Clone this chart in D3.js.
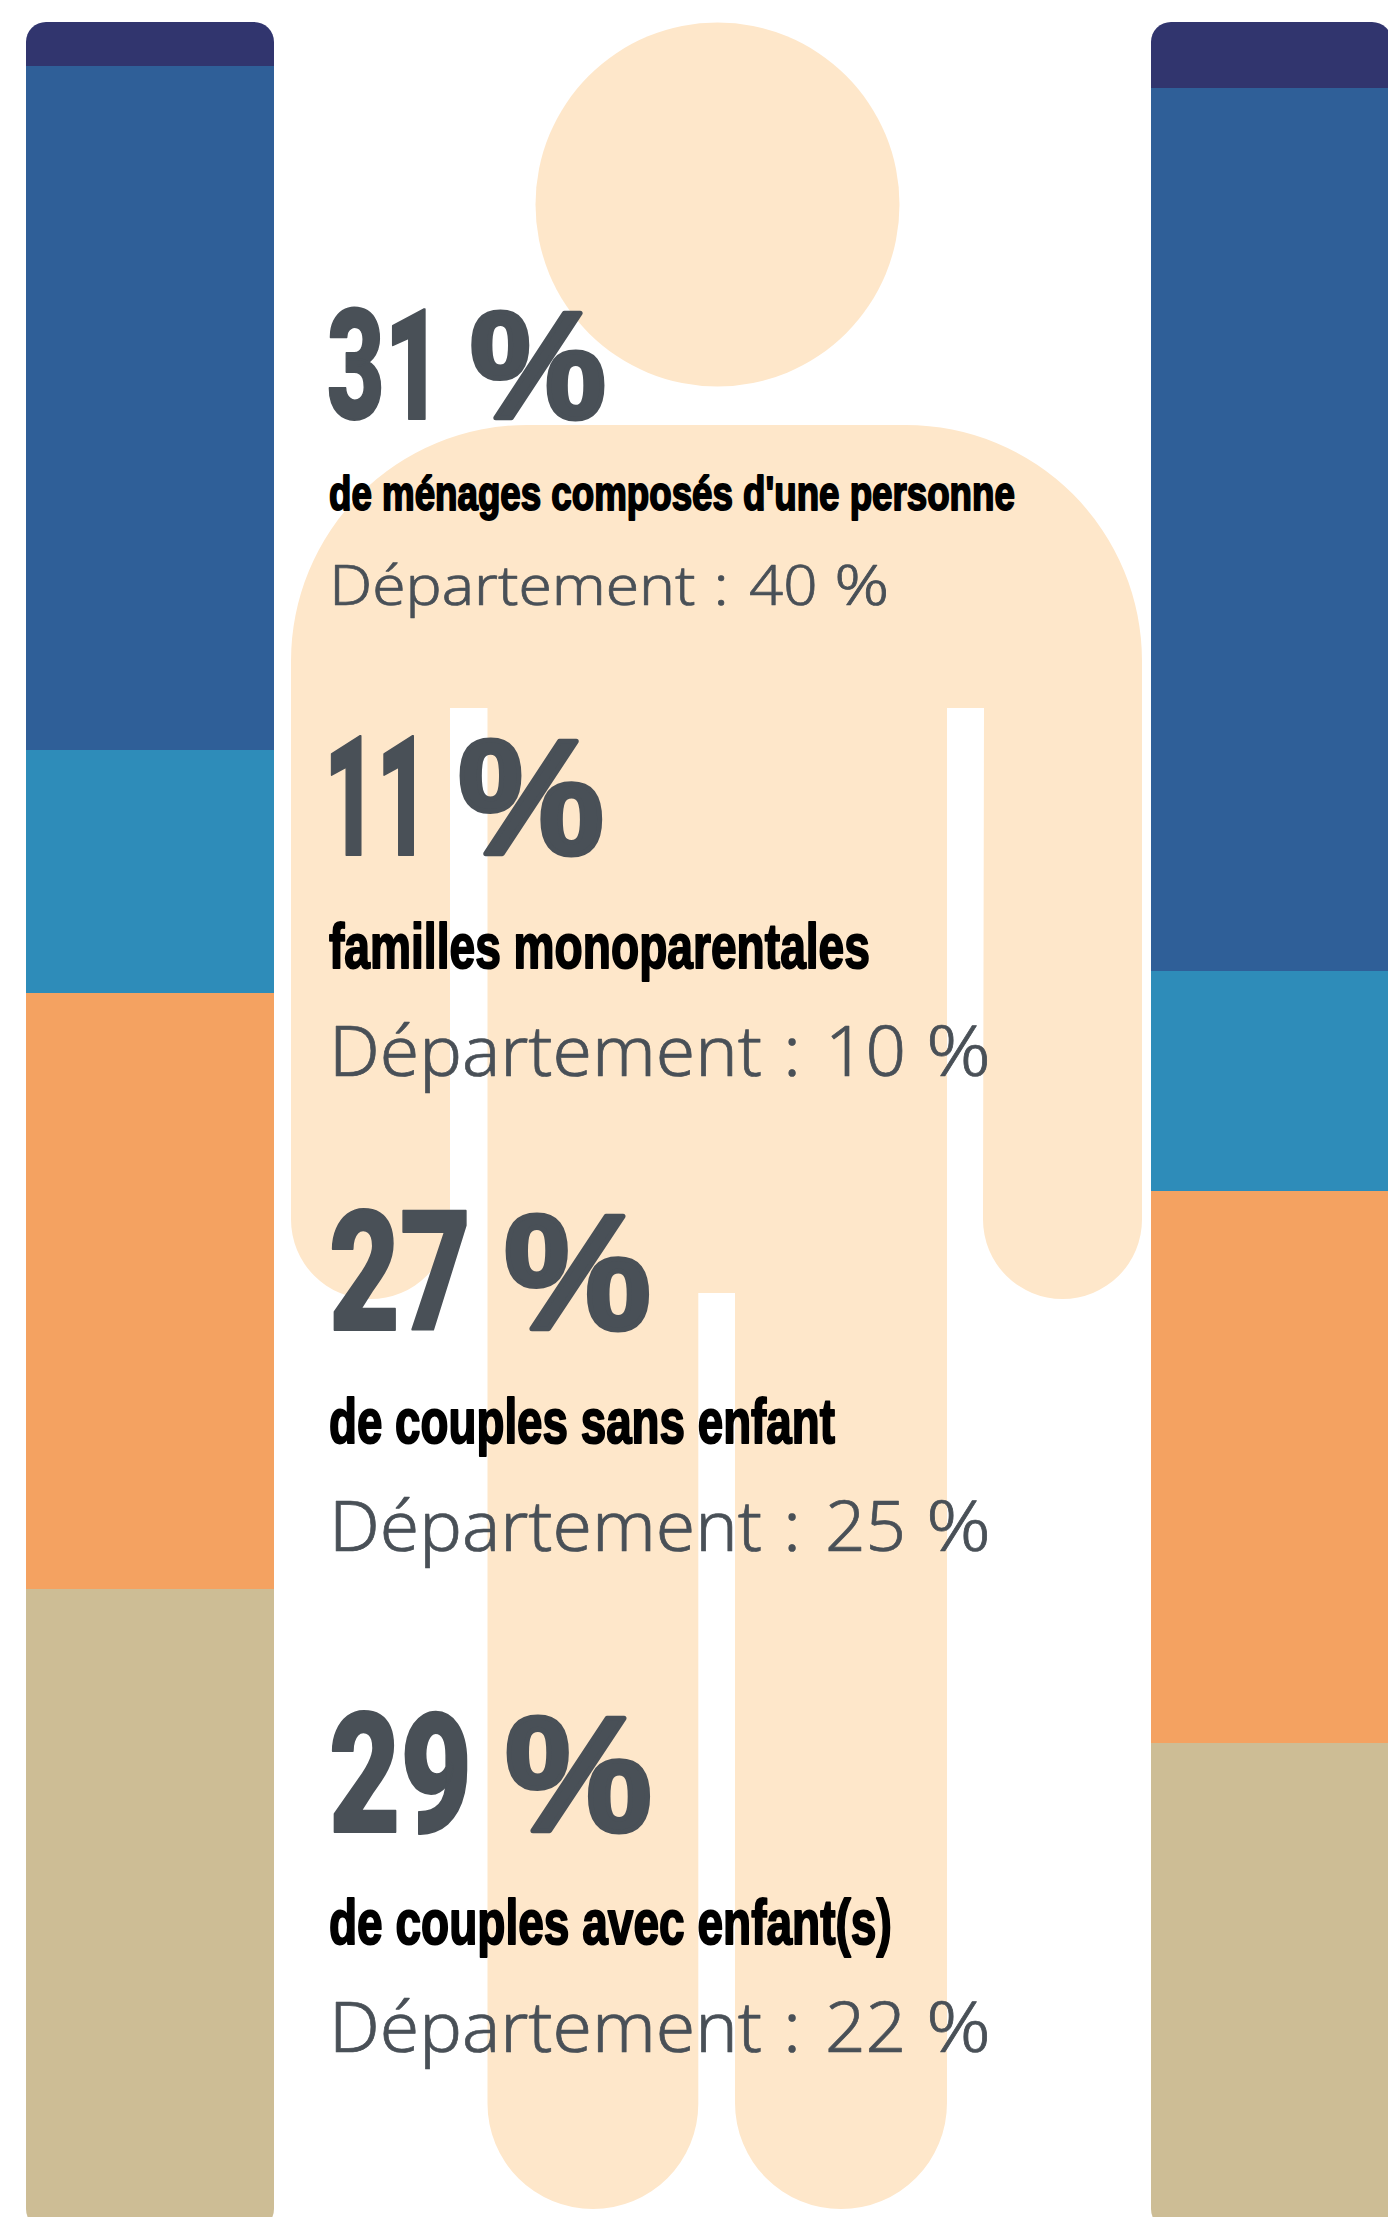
<!DOCTYPE html>
<html lang="fr">
<head>
<meta charset="utf-8">
<script src="https://cdn.jsdelivr.net/npm/d3@7"></script>
<style>
html,body{margin:0;padding:0;background:#fff;overflow:hidden}
svg{display:block}
text{white-space:pre}
</style>
</head>
<body>
<svg id="c" width="1388" height="2217"></svg>
<script>
const segments = ["autres","menages1","monoparentales","sansEnfant","avecEnfant"];
const commune = [2,31,11,27,29];
const departement = [3,40,10,25,22];
const labels = ["de ménages composés d'une personne","familles monoparentales","de couples sans enfant","de couples avec enfant(s)"];
const colours = ["#31356e","#2f5f98","#2e8cb9","#f4a261","#cdbd95"];

const svg=d3.select("#c");
const y=d3.scaleLinear().domain([0,100]).rangeRound([22,2228.5]);

// figure
const g=svg.append("g").attr("fill","#fee7ca");
g.append("circle").attr("cx",717.5).attr("cy",204.5).attr("r",182);
const p=d3.path();
const L=291,R=1142,T=425,r=236,
      g1=450,g2=487.5,g3=947,g4=984,gapTop=708,armB=1299,
      l1=698.3,l2=735,legTop=1293,legB=2209;
const armR=(g1-L)/2, legR=(l1-g2)/2, legR2=(g3-l2)/2;
p.moveTo(L,T+r);
p.arcTo(L,T,L+r,T,r);
p.lineTo(R-r,T);
p.arcTo(R,T,R,T+r,r);
p.lineTo(R,armB-armR);
p.arc(R-armR,armB-armR,armR,0,Math.PI);
p.lineTo(g4,gapTop);
p.lineTo(g3,gapTop);
p.lineTo(g3,legB-legR2);
p.arc(g3-legR2,legB-legR2,legR2,0,Math.PI);
p.lineTo(l2,legTop);
p.lineTo(l1,legTop);
p.lineTo(l1,legB-legR);
p.arc(l1-legR,legB-legR,legR,0,Math.PI);
p.lineTo(g2,gapTop);
p.lineTo(g1,gapTop);
p.lineTo(g1,armB-armR);
p.arc(g1-armR,armB-armR,armR,0,Math.PI);
p.closePath();
g.append("path").attr("d",p.toString());

// stacked bars
const defs=svg.append("defs");
function bar(values,x0,x1,id){
  const row={};segments.forEach((s,i)=>row[s]=values[i]);
  const st=d3.stack().keys(segments)([row]);
  defs.append("clipPath").attr("id",id).append("rect")
    .attr("x",x0).attr("y",y(0)).attr("width",x1-x0).attr("height",y(100)-y(0)).attr("rx",20).attr("ry",20);
  svg.append("g").attr("clip-path",`url(#${id})`).selectAll("rect").data(st).join("rect")
    .attr("x",x0).attr("width",x1-x0)
    .attr("y",d=>y(d[0][0])).attr("height",d=>y(d[0][1])-y(d[0][0]))
    .attr("fill",(d,i)=>colours[i]);
}
bar(commune,26,274,"cl");
bar(departement,1151,1392,"cr");

// a run of text scaled to a measured span
function fit(str,x0,x1,base,cap,o){
  const st=o.stroke||0;
  const t=svg.append("text").text(str)
    .attr("font-family",o.family).attr("font-weight",o.weight)
    .attr("font-size",(cap-st)/o.ratio).attr("fill",o.fill);
  if(st) t.attr("stroke",o.fill).attr("stroke-width",st).attr("stroke-linejoin","round");
  const s=(x1-x0)/t.node().getComputedTextLength();
  t.attr("transform",`translate(${x0},${base-st/2}) scale(${s},1)`);
}
// a line of several runs inside one <text>
function line(parts,base,cap,o){
  const st=o.stroke||0;
  const t=svg.append("text").attr("y",base-st/2)
    .attr("font-family",o.family).attr("font-weight",o.weight)
    .attr("font-size",(cap-st)/o.ratio).attr("fill",o.fill);
  if(st) t.attr("stroke",o.fill).attr("stroke-width",st).attr("stroke-linejoin","round");
  parts.forEach(([s,x0,x1])=>{
    const ts=t.append("tspan").text(s).attr("x",x0);
    if(x1!==undefined) ts.attr("textLength",x1-x0).attr("lengthAdjust","spacingAndGlyphs");
  });
}
const narrow="'Liberation Sans Narrow','Liberation Sans',sans-serif";
const num={family:"Roboto,sans-serif",weight:900,ratio:.711,fill:"#495057",stroke:2};
const pct={family:narrow,weight:700,ratio:.72,fill:"#495057",stroke:5};
const mid={family:narrow,weight:700,ratio:.72,fill:"#000",stroke:2};
const reg={family:"'Noto Sans',sans-serif",weight:300,ratio:.714,fill:"#495057",stroke:.7};
const blocks=[
 {n:[327,442,470,606,420,112],m:[329,1015,511,37],d:[331,.846,605,40]},
 {n:[324,429,458,604,856,121],m:[329,870,969,47],d:[331,1,1076,50]},
 {n:[329,471,504,651,1331,121],m:[329,835,1444,47],d:[331,1,1551,50]},
 {n:[329,472,505,652,1833,121],m:[329,892,1945,47],d:[331,1,2052,50]}
];
blocks.forEach((b,i)=>{
  const [a,c,e,f,base,cap]=b.n;
  fit(`${commune[i+1]}`,a,c,base,cap,num);
  fit("%",e,f,base,cap+2,pct);
  fit(labels[i],b.m[0],b.m[1],b.m[2],b.m[3],mid);
  const [x,k,bs,cp]=b.d, X=v=>x+v*k;
  line([["Département",X(-2),X(431)],[" ",X(431)],[":",X(452),X(470)],[" ",X(470)],[`${departement[i+1]}`,X(494),X(575)],[" ",X(575)],["%",X(595),X(660)]],bs,cp,reg);
});
</script>
</body>
</html>
